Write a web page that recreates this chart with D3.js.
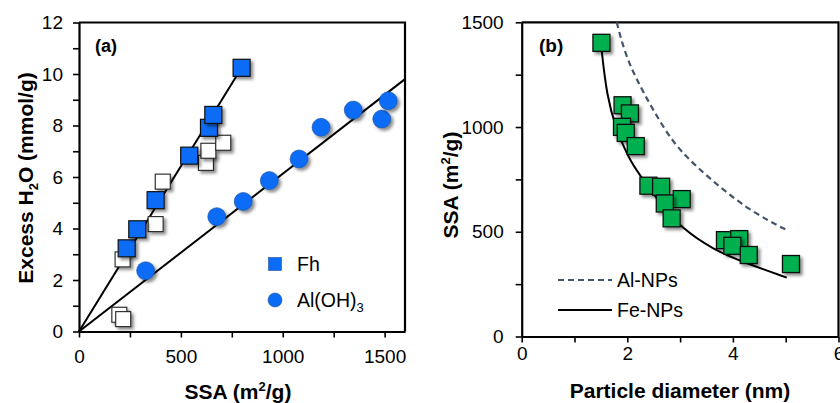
<!DOCTYPE html>
<html>
<head>
<meta charset="utf-8">
<script src="https://cdn.jsdelivr.net/npm/d3@7"></script>
<style>
  body { margin: 0; background: #fff; }
  svg { display: block; font-family: "Liberation Sans", Arial, sans-serif; }
</style>
</head>
<body>
<script>
// ---- panel (a) data: excess water vs SSA ----
const fhSSA = [234, 286, 376, 541, 638, 659, 798];
const fhH2O = [3.23, 3.97, 5.10, 6.83, 7.91, 8.41, 10.24];
const fhOpenSSA = [198, 217, 214, 376, 411, 623, 635, 708];
const fhOpenH2O = [0.65, 0.48, 2.80, 4.17, 5.82, 6.55, 7.02, 7.33];
const alSSA = [327, 676, 806, 934, 1080, 1188, 1346, 1486, 1518];
const alH2O = [2.36, 4.46, 5.05, 5.86, 6.70, 7.93, 8.60, 8.25, 8.96];
// fitted lines (end points)
const fhFitSSA = [0, 798];
const fhFitH2O = [0, 10.24];
const alFitSSA = [0, 1600];
const alFitH2O = [0, 9.8];
const xTicksA = [0, 250, 500, 750, 1000, 1250, 1500];
const yTicksA = [0, 1, 2, 3, 4, 5, 6, 7, 8, 9, 10, 11, 12];

// ---- panel (b) data: SSA vs particle diameter ----
const npD = [1.51, 1.91, 2.05, 1.90, 1.97, 2.16, 2.40, 2.64, 3.03, 2.71, 2.84, 3.85, 4.12, 3.99, 4.30, 5.10];
const npSSA = [1402, 1104, 1065, 1001, 972, 909, 720, 715, 656, 635, 564, 460, 465, 433, 389, 346];
const feCurveD = [1.50, 1.61, 1.80, 1.92, 2.05, 2.30, 2.68, 3.00, 3.63, 4.26, 5.02];
const feCurveSSA = [1400, 1144, 985, 914, 842, 747, 619, 524, 413, 349, 281];
const alCurveD = [1.80, 1.955, 2.18, 2.49, 2.87, 3.31, 3.82, 4.38, 5.02];
const alCurveSSA = [1500, 1351, 1224, 1081, 922, 810, 699, 592, 508];
const xTicksB = [0, 1, 2, 3, 4, 5, 6];
const yTicksB = [0, 250, 500, 750, 1000, 1250, 1500];

const width = 840, height = 403;
const svg = d3.select('body').append('svg')
  .attr('width', width)
  .attr('height', height);

// soft drop shadow used by the markers
const defs = svg.append('defs');
defs.append('filter')
  .attr('id', 'shadow')
  .attr('x', '-50%').attr('y', '-50%')
  .attr('width', '200%').attr('height', '200%')
  .append('feDropShadow')
  .attr('dx', 2.5).attr('dy', 2.5)
  .attr('stdDeviation', 1.8)
  .attr('flood-color', '#000')
  .attr('flood-opacity', 0.45);

const blue = '#0a6cf5';
const green = '#00b050';

// scales
const xA = d3.scaleLinear().domain([0, 1600]).range([79, 405]);
const yA = d3.scaleLinear().domain([0, 12]).range([331.5, 22.5]);
const xB = d3.scaleLinear().domain([0, 6]).range([521.7, 838.5]);
const yB = d3.scaleLinear().domain([0, 1500]).range([336.5, 22.3]);

function drawFrame(x, y, xTicks, yTicks, xEvery, yEvery, xPad, yPad) {
  let g = svg.append('g');
  // top and right border
  g.append('path')
    .attr('d', `M${x.range()[0]},${y.range()[1]}H${x.range()[1]}V${y.range()[0]}`)
    .attr('fill', 'none')
    .attr('stroke', '#000')
    .attr('stroke-width', 2.2);

  let xAxis = g.append('g')
    .attr('transform', `translate(0,${y.range()[0]})`)
    .call(d3.axisBottom(x).tickValues(xTicks)
      .tickFormat(d => d % xEvery === 0 ? d : '')
      .tickSize(6).tickSizeOuter(0).tickPadding(xPad));
  let yAxis = g.append('g')
    .attr('transform', `translate(${x.range()[0]},0)`)
    .call(d3.axisLeft(y).tickValues(yTicks)
      .tickFormat(d => d % yEvery === 0 ? d : '')
      .tickSize(6).tickSizeOuter(0).tickPadding(yPad));

  [xAxis, yAxis].forEach(a => {
    a.select('.domain').attr('stroke-width', 2.2);
    a.selectAll('.tick line').attr('stroke-width', 1.6);
    a.selectAll('.tick text')
      .attr('font-size', 19)
      .attr('font-family', '"Liberation Sans", Arial, sans-serif')
      .attr('fill', '#000');
  });
}

drawFrame(xA, yA, xTicksA, yTicksA, 500, 2, 12, 10);
drawFrame(xB, yB, xTicksB, yTicksB, 2, 500, 4, 12);

// ---- panel (a) ----
const lineA = d3.line().x(d => xA(d[0])).y(d => yA(d[1]));
svg.append('path')
  .datum(d3.zip(fhFitSSA, fhFitH2O))
  .attr('d', lineA)
  .attr('fill', 'none').attr('stroke', '#000').attr('stroke-width', 2);
svg.append('path')
  .datum(d3.zip(alFitSSA, alFitH2O))
  .attr('d', lineA)
  .attr('fill', 'none').attr('stroke', '#000').attr('stroke-width', 2);

svg.append('g').selectAll('rect')
  .data(d3.zip(fhOpenSSA, fhOpenH2O))
  .join('rect')
  .attr('x', d => xA(d[0]) - 7.5)
  .attr('y', d => yA(d[1]) - 7.5)
  .attr('width', 15).attr('height', 15)
  .attr('fill', '#fff')
  .attr('stroke', '#222')
  .attr('stroke-width', 1.1)
  .attr('filter', 'url(#shadow)');

svg.append('g').selectAll('circle')
  .data(d3.zip(alSSA, alH2O))
  .join('circle')
  .attr('cx', d => xA(d[0]))
  .attr('cy', d => yA(d[1]))
  .attr('r', 9)
  .attr('fill', blue)
  .attr('stroke', '#1d4f9c')
  .attr('stroke-width', 0.6)
  .attr('filter', 'url(#shadow)');

svg.append('g').selectAll('rect')
  .data(d3.zip(fhSSA, fhH2O))
  .join('rect')
  .attr('x', d => xA(d[0]) - 8.5)
  .attr('y', d => yA(d[1]) - 8.5)
  .attr('width', 17).attr('height', 17)
  .attr('fill', blue)
  .attr('stroke', '#111')
  .attr('stroke-width', 1.2)
  .attr('filter', 'url(#shadow)');

// legend (a)
svg.append('rect')
  .attr('x', 268.5).attr('y', 257.5)
  .attr('width', 13).attr('height', 13)
  .attr('fill', blue).attr('stroke', '#1d4f9c').attr('stroke-width', 0.6);
svg.append('circle')
  .attr('cx', 275).attr('cy', 300).attr('r', 7)
  .attr('fill', blue).attr('stroke', '#1d4f9c').attr('stroke-width', 0.6);
svg.append('text')
  .attr('x', 297).attr('y', 271)
  .attr('font-size', 19.5)
  .text('Fh');
let alLabel = svg.append('text')
  .attr('x', 297).attr('y', 307)
  .attr('font-size', 19.5);
alLabel.append('tspan').text('Al(OH)');
alLabel.append('tspan').attr('font-size', 13).attr('dy', 5).text('3');

svg.append('text')
  .attr('x', 95).attr('y', 52)
  .attr('font-size', 18).attr('font-weight', 'bold')
  .text('(a)');

// axis titles (a)
let xTitleA = svg.append('text')
  .attr('x', 238).attr('y', 399)
  .attr('text-anchor', 'middle')
  .attr('font-size', 21).attr('font-weight', 'bold');
xTitleA.append('tspan').text('SSA (m');
xTitleA.append('tspan').attr('font-size', 13).attr('dy', -8).text('2');
xTitleA.append('tspan').attr('dy', 8).text('/g)');

let yTitleA = svg.append('text')
  .attr('transform', 'translate(33,178) rotate(-90)')
  .attr('text-anchor', 'middle')
  .attr('font-size', 21).attr('font-weight', 'bold');
yTitleA.append('tspan').text('Excess H');
yTitleA.append('tspan').attr('font-size', 13).attr('dy', 5).text('2');
yTitleA.append('tspan').attr('dy', -5).text('O (mmol/g)');

// ---- panel (b) ----
const curveB = d3.line().x(d => xB(d[0])).y(d => yB(d[1])).curve(d3.curveBasis);
svg.append('path')
  .datum(d3.zip(alCurveD, alCurveSSA))
  .attr('d', curveB)
  .attr('fill', 'none').attr('stroke', '#44546a')
  .attr('stroke-width', 2.2).attr('stroke-dasharray', '6,4');
svg.append('path')
  .datum(d3.zip(feCurveD, feCurveSSA))
  .attr('d', curveB)
  .attr('fill', 'none').attr('stroke', '#000').attr('stroke-width', 2);

svg.append('g').selectAll('rect')
  .data(d3.zip(npD, npSSA))
  .join('rect')
  .attr('x', d => xB(d[0]) - 8.5)
  .attr('y', d => yB(d[1]) - 8.5)
  .attr('width', 17).attr('height', 17)
  .attr('fill', green)
  .attr('stroke', '#111')
  .attr('stroke-width', 1.3)
  .attr('filter', 'url(#shadow)');

// legend (b)
svg.append('line')
  .attr('x1', 558).attr('x2', 612).attr('y1', 280).attr('y2', 280)
  .attr('stroke', '#44546a').attr('stroke-width', 2.2).attr('stroke-dasharray', '6,4');
svg.append('line')
  .attr('x1', 558).attr('x2', 612).attr('y1', 310).attr('y2', 310)
  .attr('stroke', '#000').attr('stroke-width', 2);
svg.append('text')
  .attr('x', 617).attr('y', 287)
  .attr('font-size', 19.5)
  .text('Al-NPs');
svg.append('text')
  .attr('x', 617).attr('y', 317)
  .attr('font-size', 19.5)
  .text('Fe-NPs');

svg.append('text')
  .attr('x', 539).attr('y', 52)
  .attr('font-size', 19).attr('font-weight', 'bold')
  .text('(b)');

// axis titles (b)
svg.append('text')
  .attr('x', 680).attr('y', 398)
  .attr('text-anchor', 'middle')
  .attr('font-size', 21).attr('font-weight', 'bold')
  .text('Particle diameter (nm)');

let yTitleB = svg.append('text')
  .attr('transform', 'translate(458,185) rotate(-90)')
  .attr('text-anchor', 'middle')
  .attr('font-size', 21).attr('font-weight', 'bold');
yTitleB.append('tspan').text('SSA (m');
yTitleB.append('tspan').attr('font-size', 13).attr('dy', -8).text('2');
yTitleB.append('tspan').attr('dy', 8).text('/g)');
</script>
</body>
</html>
